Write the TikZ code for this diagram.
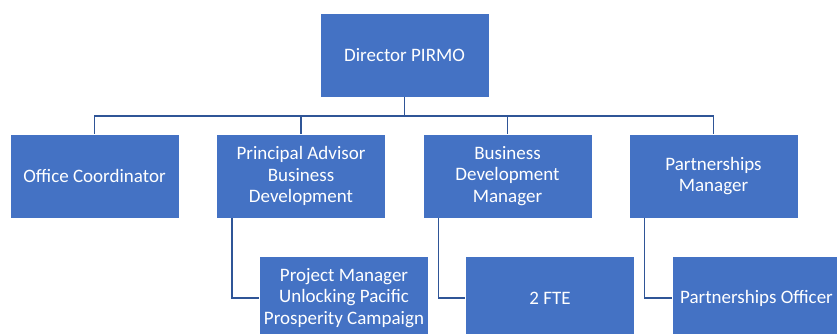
\documentclass[tikz,border=0pt]{standalone}
\usepackage{fontspec}
\setmainfont{Carlito}
\definecolor{boxblue}{HTML}{4472C4}
\definecolor{linkblue}{HTML}{2F5597}
\tikzset{
  box/.style={rectangle, fill=boxblue, draw=white, line width=0.8pt, text=white,
              minimum width=169pt, minimum height=84pt, inner sep=0pt, align=center,
              font=\fontsize{19}{21.7}\selectfont},
  link/.style={draw=linkblue, line width=1.4pt}
}
\begin{document}
\begin{tikzpicture}[x=1pt, y=-1pt]
        \useasboundingbox (0,0) rectangle (837,333);
        \clip (0,0) rectangle (837,333);
        % Top box
        \node[box] (dir) at (404.5,55) {Director PIRMO};
        % Second row
        \foreach \x/\n/\lbl in {94.5/oc/{Office Coordinator},
                                301/pa/{Principal Advisor\\Business\\Development},
                                507.5/bdm/{Business\\Development\\Manager},
                                713.5/pm/{Partnerships\\Manager}} {
            \node[box] (\n) at (\x,176) {\lbl};
        }
        % Third row
        \foreach \x/\n/\lbl in {344/pjm/{Project Manager\\Unlocking Pacific\\Prosperity Campaign},
                                550/fte/{2 FTE},
                                756.5/po/{Partnerships Officer}} {
            \node[box] (\n) at (\x,298) {\lbl};
        }
        % Connectors
        \coordinate (bus) at (404.5,116);
        \draw[link] (dir.south) -- (bus);
        \foreach \n in {oc, pa, bdm, pm}
        {   \draw[link] (bus) -| (\n.north);}
        \foreach \a/\b in {pa/pjm, bdm/fte, pm/po}
        {   \draw[link] ([xshift=16pt]\a.south west) |- (\b.west);}
    \end{tikzpicture}
\end{document}
